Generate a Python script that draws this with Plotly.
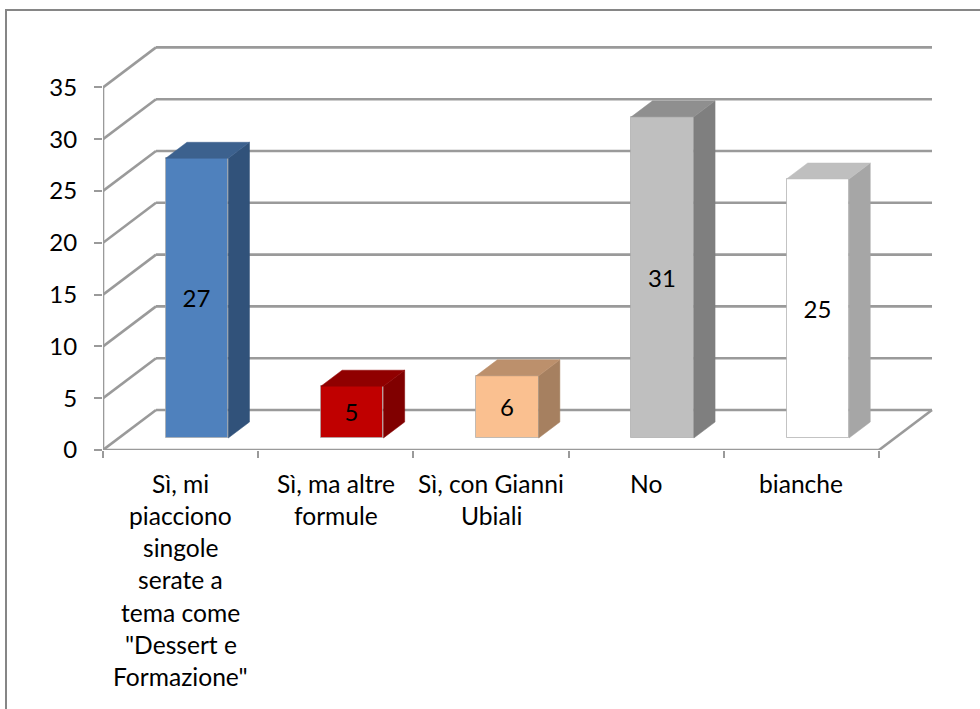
import plotly.graph_objects as go

# --- data ---
categories = [
    ["Sì, mi", "piacciono", "singole", "serate a", "tema come", "\"Dessert e", "Formazione\""],
    ["Sì, ma altre", "formule"],
    ["Sì, con Gianni", "Ubiali"],
    ["No"],
    ["bianche"],
]
values = [27, 5, 6, 31, 25]
y_ticks = [0, 5, 10, 15, 20, 25, 30, 35]

# --- style ---
front_colors = ["#4F81BD", "#C00000", "#FAC090", "#BFBFBF", "#FFFFFF"]
top_colors = ["#3C618E", "#900000", "#BC906C", "#8F8F8F", "#BFBFBF"]
side_colors = ["#31527A", "#800000", "#A68060", "#7F7F7F", "#A6A6A6"]
GRID = "#9A9A9A"
FONT = "Lato, Carlito, sans-serif"
FS = 24
FS_CAT = 24.6
W, H = 980, 709
L, R, T, B = 103, 47, 46, 259
PX_CAT, PX_VAL = 155.2, 10.36
DEPTH_X, DEPTH_Y = 53 / PX_CAT, 40 / PX_VAL   # oblique projection of the depth axis
BAR_W = 0.403
BAR_NUDGE = 0.5 / PX_CAT
D0, D1 = 0.3, 0.7
N = len(values)
PW, PH = W - L - R, H - T - B


def pj(c, v, d):
    return c + d * DEPTH_X, v + d * DEPTH_Y


def line_shape(p, q, color=GRID, width=2.6):
    return dict(type="line", xref="x", yref="y", x0=p[0], y0=p[1], x1=q[0], y1=q[1],
                layer="below", line=dict(color=color, width=width))


shapes = []
for v in y_ticks[1:]:
    shapes.append(line_shape(pj(0, v, 0), pj(0, v, 1)))
    shapes.append(line_shape(pj(0, v, 1), pj(N, v, 1)))
shapes += [
    line_shape(pj(0, 0, 0), pj(0, 0, 1)),
    line_shape(pj(0, 0, 1), pj(N, 0, 1)),
    line_shape(pj(N, 0, 1), pj(N, 0, 0)),
    line_shape(pj(0, 0, 0), pj(N, 0, 0)),
    line_shape(pj(0, 0, 0), pj(0, y_ticks[-1], 0)),
]
# outer chart frame
for x0, y0, x1, y1 in [(6, 10, W, 10), (6, 9, 6, H)]:
    shapes.append(dict(type="line", xref="paper", yref="paper",
                       x0=(x0 - L) / PW, x1=(x1 - L) / PW,
                       y0=1 - (y0 - T) / PH, y1=1 - (y1 - T) / PH,
                       line=dict(color="#868686", width=2)))

fig = go.Figure()
centers = [i + 0.5 for i in range(N)]
bar_centers = [c + BAR_NUDGE for c in centers]
fig.add_trace(go.Bar(
    x=[pj(c, 0, D0)[0] for c in bar_centers],
    y=values,
    base=[pj(0, 0, D0)[1]] * N,
    width=BAR_W,
    text=[str(v) for v in values],
    textposition="inside",
    insidetextanchor="middle",
    textangle=0,
    constraintext="none",
    textfont=dict(family=FONT, size=FS, color="#000000"),
    marker=dict(color=front_colors, line=dict(color="rgba(170,170,170,0.7)", width=1)),
    hoverinfo="skip",
    showlegend=False,
))
hw = BAR_W / 2
for c, v, top, side in zip(bar_centers, values, top_colors, side_colors):
    xs, ys = zip(pj(c + hw, 0, D0), pj(c + hw, 0, D1), pj(c + hw, v, D1), pj(c + hw, v, D0), pj(c + hw, 0, D0))
    fig.add_trace(go.Scatter(x=xs, y=ys, mode="lines", fill="toself", fillcolor=side,
                             line=dict(color=side, width=0.5), hoverinfo="skip", showlegend=False))
    xs, ys = zip(pj(c - hw, v, D0), pj(c + hw, v, D0), pj(c + hw, v, D1), pj(c - hw, v, D1), pj(c - hw, v, D0))
    fig.add_trace(go.Scatter(x=xs, y=ys, mode="lines", fill="toself", fillcolor=top,
                             line=dict(color=top, width=0.5), hoverinfo="skip", showlegend=False))

annotations = []
LINE_H, FIRST = 32.3, 483
for c, lines in zip(centers, categories):
    for k, t in enumerate(lines):
        annotations.append(dict(
            x=c, xref="x", y=1 - (FIRST + k * LINE_H - T) / PH, yref="paper",
            text=t, showarrow=False, xanchor="center", yanchor="middle",
            font=dict(family=FONT, size=FS_CAT, color="#000000"),
        ))

fig.update_layout(
    width=W, height=H,
    margin=dict(l=L, r=R, t=T, b=B, pad=0),
    paper_bgcolor="#FFFFFF", plot_bgcolor="rgba(0,0,0,0)",
    bargap=0,
    shapes=shapes,
    annotations=annotations,
    showlegend=False,
    xaxis=dict(range=[0, PW / PX_CAT], showgrid=False, zeroline=False, showline=False,
               tickmode="array", tickvals=list(range(N + 1)), ticktext=[""] * (N + 1),
               ticks="outside", ticklen=7, tickwidth=2, tickcolor=GRID, fixedrange=True),
    yaxis=dict(range=[0, PH / PX_VAL], showgrid=False, zeroline=False, showline=False,
               tickmode="array", tickvals=y_ticks, ticks="outside", ticklen=8, tickwidth=2,
               tickcolor=GRID, ticklabelstandoff=12,
               tickfont=dict(family=FONT, size=FS, color="#000000"), fixedrange=True),
)
fig.write_html("out.html", config=dict(displayModeBar=False),
               post_script="document.body.style.margin='0';document.documentElement.style.overflow='hidden';")
